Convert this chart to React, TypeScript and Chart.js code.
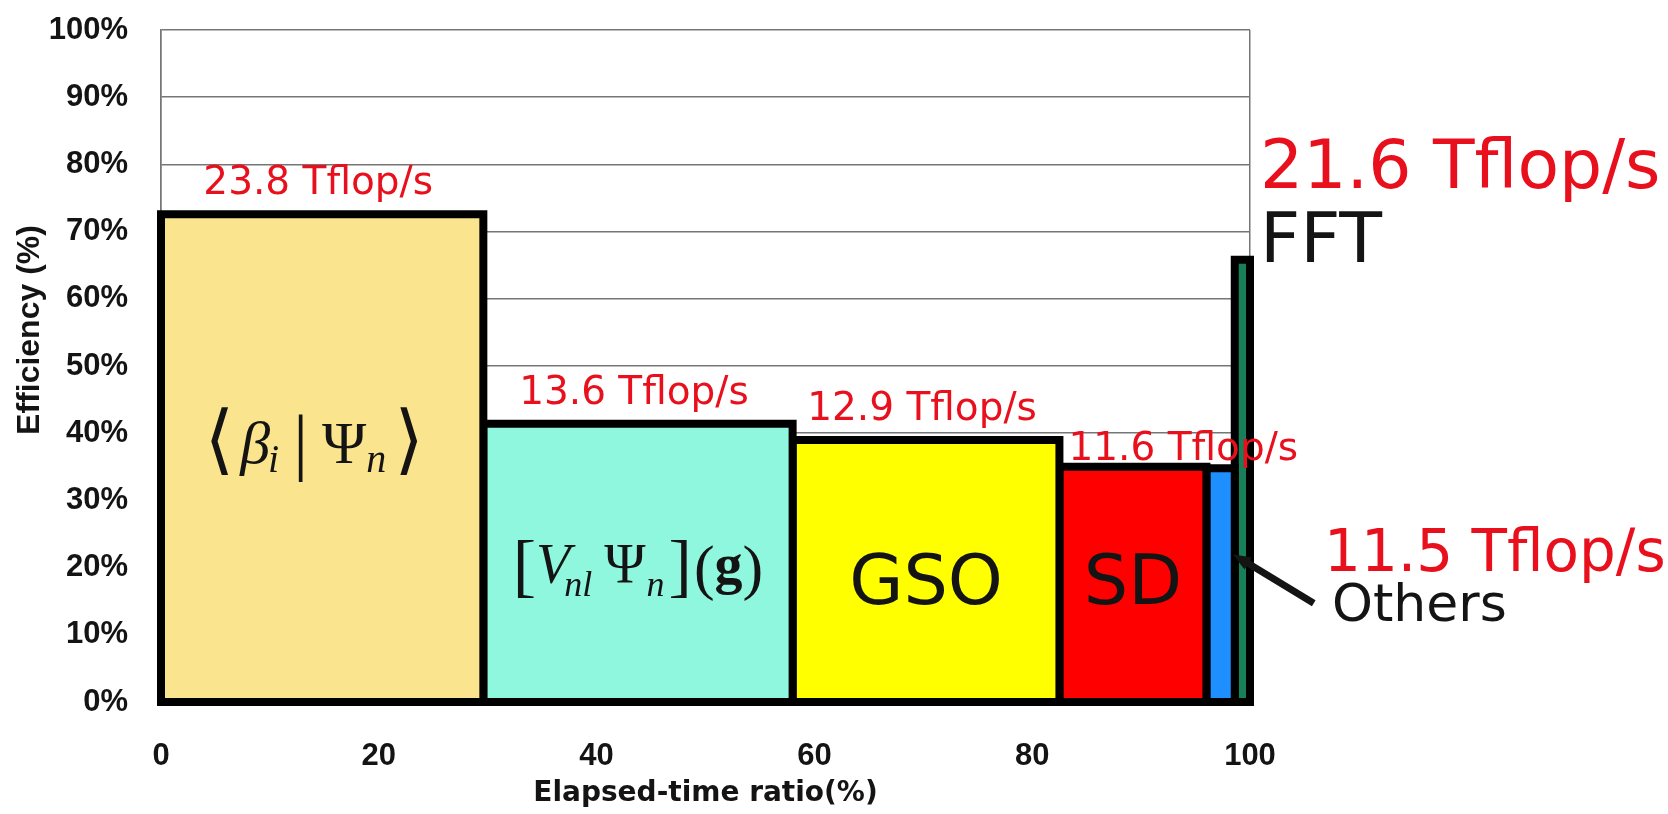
import React, { useEffect, useRef } from "react";
import { Chart, registerables } from "chart.js";

Chart.register(...registerables);

// Each kernel is a rectangle: width = share of elapsed time, height = efficiency.
const kernels = ["betaPsi", "vnlPsi", "GSO", "SD", "Others", "FFT"];
const timeStart = [0, 29.6, 58.0, 82.5, 96.0, 98.6];
const timeEnd = [29.6, 58.0, 82.5, 96.0, 98.6, 100];
const efficiency = [72.6, 41.4, 39.0, 35.0, 34.8, 65.8];
const performance = [
  "23.8 Tflop/s",
  "13.6 Tflop/s",
  "12.9 Tflop/s",
  "11.6 Tflop/s",
  "11.5 Tflop/s",
  "21.6 Tflop/s",
];
const barColors = ["#FBE48E", "#8EF7DE", "#FFFF00", "#FF0000", "#1E8FFF", "#178058"];
const xTickValues = [0, 20, 40, 60, 80, 100];
const yTickValues = [0, 10, 20, 30, 40, 50, 60, 70, 80, 90, 100];

const RED = "#E8101C";
const INK = "#141414";
const SANS = '"DejaVu Sans"';
const SERIF = '"Liberation Serif"';
const ARIAL = '"Liberation Sans"';

type Piece = { t: string; font: string; dy?: number; gap?: number };

const betaPieces: Piece[] = [
  { t: "⟨", font: `76px ${SANS}`, dy: 2, gap: 6 },
  { t: "β", font: `italic 60px ${SERIF}`, gap: -2 },
  { t: "i", font: `italic 40px ${SERIF}`, dy: 9, gap: 14 },
  { t: "|", font: `74px ${SERIF}`, dy: 3, gap: 14 },
  { t: "Ψ", font: `60px ${SERIF}`, gap: 0 },
  { t: "n", font: `italic 40px ${SERIF}`, dy: 9, gap: 8 },
  { t: "⟩", font: `76px ${SANS}`, dy: 2 },
];

const vnlPieces: Piece[] = [
  { t: "[", font: `70px ${SERIF}`, dy: 6, gap: 0 },
  { t: "V", font: `italic 56px ${SERIF}`, gap: -6 },
  { t: "nl", font: `italic 36px ${SERIF}`, dy: 13, gap: 12 },
  { t: "Ψ", font: `56px ${SERIF}`, gap: 1 },
  { t: "n", font: `italic 36px ${SERIF}`, dy: 13, gap: 4 },
  { t: "]", font: `70px ${SERIF}`, dy: 6, gap: 2 },
  { t: "(", font: `62px ${SERIF}`, dy: 5, gap: 0 },
  { t: "g", font: `bold 56px ${SERIF}`, gap: 0 },
  { t: ")", font: `62px ${SERIF}`, dy: 5 },
];

function drawPieces(ctx: CanvasRenderingContext2D, pieces: Piece[], cx: number, baseY: number) {
  const widths = pieces.map((p) => {
    ctx.font = p.font;
    return ctx.measureText(p.t).width;
  });
  let total = 0;
  pieces.forEach((p, i) => {
    total += widths[i] + (i < pieces.length - 1 ? p.gap ?? 0 : 0);
  });
  let x = cx - total / 2;
  ctx.textAlign = "left";
  ctx.textBaseline = "alphabetic";
  pieces.forEach((p, i) => {
    ctx.font = p.font;
    ctx.fillText(p.t, x, baseY + (p.dy ?? 0));
    x += widths[i] + (p.gap ?? 0);
  });
}

const annotations = {
  id: "kernelAnnotations",
  afterDraw(chart: Chart) {
    const ctx = chart.ctx;
    const xs = chart.scales.x;
    const ys = chart.scales.y;
    const mid = (i: number) => xs.getPixelForValue((timeStart[i] + timeEnd[i]) / 2);
    const top = (i: number) => ys.getPixelForValue(efficiency[i]);
    const right = xs.getPixelForValue(100);

    ctx.save();
    // performance figures above the wide kernels
    ctx.fillStyle = RED;
    ctx.textBaseline = "alphabetic";
    ctx.font = `39px ${SANS}`;
    ctx.textAlign = "center";
    for (let i = 0; i < 3; i++) ctx.fillText(performance[i], mid(i) - 4, top(i) - 20);
    ctx.textAlign = "left";
    ctx.fillText(performance[3], xs.getPixelForValue(timeStart[3]) + 9, top(3) - 7);

    // FFT and Others, labelled outside the plot
    ctx.font = `68px ${SANS}`;
    ctx.fillText(performance[5], right + 10, top(5) - 72);
    ctx.font = `58px ${SANS}`;
    ctx.fillText(performance[4], right + 74, ys.getPixelForValue(19.5));

    ctx.fillStyle = INK;
    ctx.font = `70px ${SANS}`;
    ctx.fillText(kernels[5], right + 10, top(5) + 2);
    ctx.font = `52px ${SANS}`;
    ctx.fillText(kernels[4], right + 82, ys.getPixelForValue(12));

    // arrow pointing at the Others bar
    const tipX = xs.getPixelForValue(timeEnd[4]) - 2;
    const tipY = ys.getPixelForValue(22);
    const tailX = tipX + 81;
    const tailY = tipY + 49;
    const ang = Math.atan2(tipY - tailY, tipX - tailX);
    ctx.strokeStyle = INK;
    ctx.lineWidth = 7;
    ctx.lineCap = "butt";
    ctx.beginPath();
    ctx.moveTo(tailX, tailY);
    ctx.lineTo(tipX - 10 * Math.cos(ang), tipY - 10 * Math.sin(ang));
    ctx.stroke();
    ctx.beginPath();
    ctx.moveTo(tipX, tipY);
    ctx.lineTo(tipX - 18 * Math.cos(ang) + 7 * Math.sin(ang), tipY - 18 * Math.sin(ang) - 7 * Math.cos(ang));
    ctx.lineTo(tipX - 18 * Math.cos(ang) - 7 * Math.sin(ang), tipY - 18 * Math.sin(ang) + 7 * Math.cos(ang));
    ctx.closePath();
    ctx.fill();

    // kernel names inside the bars
    ctx.fillStyle = INK;
    drawPieces(ctx, betaPieces, mid(0) - 8, ys.getPixelForValue(35.6));
    drawPieces(ctx, vnlPieces, mid(1), ys.getPixelForValue(17.7));
    ctx.textAlign = "center";
    ctx.font = `70px ${SANS}`;
    ctx.fillText(kernels[2], mid(2), ys.getPixelForValue(14.6));
    ctx.fillText(kernels[3], mid(3), ys.getPixelForValue(14.6));

    // vertical axis title
    ctx.translate(30, 330);
    ctx.rotate(-Math.PI / 2);
    ctx.font = `bold 32px ${ARIAL}`;
    ctx.textAlign = "center";
    ctx.textBaseline = "middle";
    ctx.fillText("Efficiency (%)", 0, 0);
    ctx.restore();
  },
};

export default function App() {
  const canvasRef = useRef<HTMLCanvasElement>(null);

  useEffect(() => {
    if (!canvasRef.current) return;

    const datasets: any[] = timeStart.map((s, i) => ({
      label: kernels[i],
      data: [
        { x: s, y: 0 },
        { x: s, y: efficiency[i] },
        { x: timeEnd[i], y: efficiency[i] },
        { x: timeEnd[i], y: 0 },
      ],
      backgroundColor: barColors[i],
      borderColor: "#000000",
      borderWidth: 8,
      borderJoinStyle: "miter",
      fill: "origin",
      pointRadius: 0,
      tension: 0,
      clip: false,
    }));
    // common baseline under all kernels
    datasets.push({
      label: "baseline",
      data: [
        { x: timeStart[0], y: 0 },
        { x: timeEnd[timeEnd.length - 1], y: 0 },
      ],
      borderColor: "#000000",
      borderWidth: 8,
      borderCapStyle: "square",
      fill: false,
      pointRadius: 0,
      clip: false,
      order: -1,
    });

    const tickFont = { family: "Liberation Sans", weight: "bold" as const, size: 31 };
    const GRID = "#767676";

    const chart = new Chart(canvasRef.current, {
      type: "line",
      data: { datasets },
      options: {
        responsive: false,
        animation: false,
        events: [],
        layout: { padding: { top: 30, right: 418, left: 0, bottom: 0 } },
        plugins: { legend: { display: false }, tooltip: { enabled: false } },
        scales: {
          x: {
            type: "linear",
            min: 0,
            max: 100,
            afterBuildTicks: (s: any) => {
              s.ticks = xTickValues.map((v) => ({ value: v }));
            },
            afterFit: (s: any) => {
              s.height = 112;
              s.paddingLeft = 0;
              s.paddingRight = 0;
            },
            grid: {
              color: (c: any) =>
                c.tick && (c.tick.value === 0 || c.tick.value === 100) ? GRID : "rgba(0,0,0,0)",
              lineWidth: 1.5,
              drawTicks: false,
            },
            border: { display: false },
            ticks: { padding: 36, font: tickFont, color: INK, maxRotation: 0 },
            title: {
              display: true,
              text: "Elapsed-time ratio(%)",
              font: { family: "DejaVu Sans", weight: "bold", size: 28 },
              color: INK,
              padding: { top: 0, bottom: 3 },
            },
          },
          y: {
            type: "linear",
            min: 0,
            max: 100,
            afterBuildTicks: (s: any) => {
              s.ticks = yTickValues.map((v) => ({ value: v }));
            },
            afterFit: (s: any) => {
              s.width = 161;
              s.paddingTop = 0;
              s.paddingBottom = 0;
            },
            grid: { color: GRID, lineWidth: 1.5, drawTicks: false },
            border: { display: true, color: GRID, width: 1.5 },
            ticks: {
              padding: 33,
              font: tickFont,
              color: INK,
              callback: (v: any) => `${v}%`,
            },
          },
        },
      },
      plugins: [annotations],
    });

    return () => chart.destroy();
  }, []);

  return (
    <div style={{ position: "fixed", left: 0, top: 0, width: 1668, height: 814, background: "#ffffff" }}>
      <canvas ref={canvasRef} width={1668} height={814} style={{ display: "block", width: 1668, height: 814 }} />
    </div>
  );
}
